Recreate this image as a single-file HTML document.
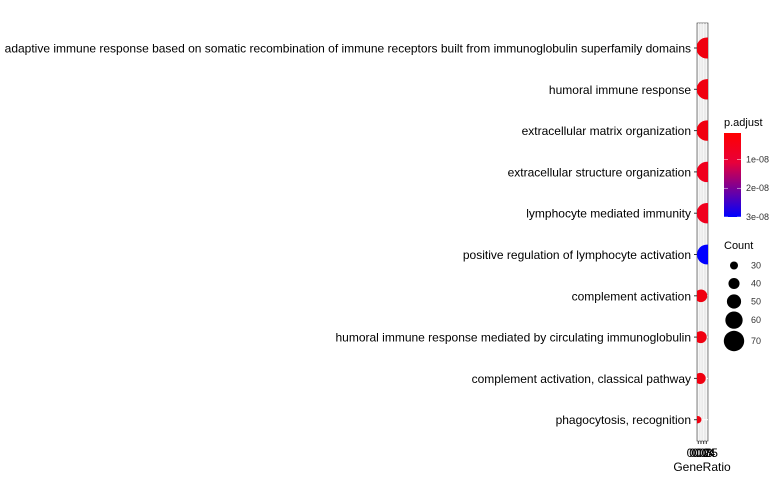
<!DOCTYPE html>
<html><head><meta charset="utf-8"><style>
body{margin:0;background:#fff;width:780px;height:480px;overflow:hidden}
svg text{font-family:"Liberation Sans",sans-serif}
</style></head><body>
<svg id="c" width="780" height="480">
<defs>
<linearGradient id="g" x1="0" y1="0" x2="0" y2="1"><stop offset="0" stop-color="#ff0000"/><stop offset="0.35" stop-color="#e8003a"/><stop offset="1" stop-color="#0000ff"/></linearGradient>
<clipPath id="pc"><rect x="697" y="23" width="11" height="418"/></clipPath>
</defs>
</svg>
<script>
const terms=["adaptive immune response based on somatic recombination of immune receptors built from immunoglobulin superfamily domains","humoral immune response","extracellular matrix organization","extracellular structure organization","lymphocyte mediated immunity","positive regulation of lymphocyte activation","complement activation","humoral immune response mediated by circulating immunoglobulin","complement activation, classical pathway","phagocytosis, recognition"];
const geneRatio=[0.052,0.052,0.052,0.052,0.052,0.052,0.030,0.029,0.027,0.018];
const counts=[72,70,70,70,70,68,45,43,40,28];
const padj=[0.2e-8,0.2e-8,0.2e-8,0.3e-8,0.3e-8,3e-8,0.2e-8,0.2e-8,0.2e-8,0.2e-8];
const xTicks=[0.02,0.03,0.04,0.05];
const xTickLabels=["0.02","0.03","0.04","0.05"];
const sizeBreaks=[30,40,50,60,70];
const colorBreaks=[1e-8,2e-8,3e-8];
const colorLabels=["1e-08","2e-08","3e-08"];
const NS="http://www.w3.org/2000/svg",svg=document.getElementById('c');
function mk(t,a,p){const e=document.createElementNS(NS,t);for(const k in a)e.setAttribute(k,a[k]);(p||svg).appendChild(e);return e;}
const x=v=>698.3+(v-0.02)*267;
const y=i=>48+i*41.3;
const r=c=>4+(c-30)*0.155;
const col=p=>{const t=Math.min(1,Math.max(0,(p-0.08e-8)/(3e-8-0.08e-8)));const B=Math.round(t<0.1?40*t/0.1:40+215*(t-0.1)/0.9);return `rgb(${t<0.1?240:Math.round(255*(1-t))},0,${B})`;};
let bg=mk('rect',{x:697,y:23,width:11,height:418,fill:'#ebebeb',stroke:'#333','stroke-width':0.6});

xTicks.forEach(v=>{let l=mk('line',{x1:x(v),x2:x(v),y1:23,y2:441,stroke:'#fff','stroke-width':0.6});});
terms.forEach((t,i)=>{let g=mk('line',{x1:697,x2:708,y1:y(i),y2:y(i),stroke:'#fff','stroke-width':1});
let tx=mk('text',{x:691,y:y(i)+4.5,'text-anchor':'end','font-size':12,fill:'#000'});tx.textContent=t;
let tk=mk('line',{x1:694,x2:697,y1:y(i),y2:y(i),stroke:'#333'});});
const pg=mk('g',{'clip-path':'url(#pc)'});
terms.forEach((t,i)=>{let c=mk('circle',{cx:x(geneRatio[i]),cy:y(i),r:r(counts[i]),fill:col(padj[i])},pg);});
xTicks.forEach((v,i)=>{let tk=mk('line',{x1:x(v),x2:x(v),y1:441,y2:444,stroke:'#333'});
let tx=mk('text',{x:x(v),y:457,'text-anchor':'middle','font-size':12,fill:'#000'});tx.textContent=xTickLabels[i];});
let xt=mk('text',{x:702,y:471,'text-anchor':'middle','font-size':12,fill:'#000'});xt.textContent='GeneRatio';
let lt=mk('text',{x:724,y:126,'font-size':11});lt.textContent='p.adjust';
let cb=mk('rect',{x:724,y:133,width:17,height:84,fill:'url(#g)'});
const cy=v=>133+(v-0.08e-8)/(3e-8-0.08e-8)*84;
colorBreaks.forEach((v,i)=>{let tx=mk('text',{x:746,y:cy(v)+3,'font-size':9,fill:'#333'});tx.textContent=colorLabels[i];
mk('line',{x1:724,x2:728,y1:cy(v),y2:cy(v),stroke:'#fff','stroke-width':0.5});mk('line',{x1:737,x2:741,y1:cy(v),y2:cy(v),stroke:'#fff','stroke-width':0.5});});
let st=mk('text',{x:724,y:249,'font-size':11});st.textContent='Count';
let yy=257;
sizeBreaks.forEach((v,i)=>{const rr=r(v);const kh=Math.max(17,2*rr+1);const cyy=yy+kh/2;let c=mk('circle',{cx:734,cy:cyy,r:rr,fill:'#000'});
let tx=mk('text',{x:751,y:cyy+3,'font-size':9,fill:'#333'});tx.textContent=v;yy+=kh+1;});
</script>
</body></html>
